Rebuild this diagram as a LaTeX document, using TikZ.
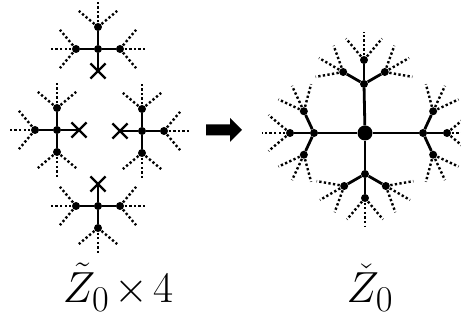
\documentclass[tikz,border=0pt]{standalone}
\usetikzlibrary{shapes.misc}
\begin{document}
\begin{tikzpicture}[
    x=1pt, y=1pt,
    dot/.style={circle, fill, inner sep=0pt, minimum size=8pt},
    hub/.style={circle, fill, inner sep=0pt, minimum size=15pt},
    cut/.style={cross out, draw, line width=2.2pt, inner sep=0pt, minimum size=13pt},
    bond/.style={line width=2.8pt},
    leg/.style={line width=2.4pt, dash pattern=on 2.3pt off 2.3pt},
    lab/.style={font=\Huge, scale=1.75, inner sep=0pt}
]
\useasboundingbox (0,0) rectangle (461,320);

% Four stars, each with one cut arm
\foreach \s/\cx/\cy/\xd in {t/98/271/270, l/57/190/0, r/142/189/180, b/98/114/90} {
  \node[dot] (\s) at (\cx,\cy) {};
  \path (\s) ++(\xd:22) node[cut] (\s x) {};
  \draw[bond] (\s) -- (\s x.center);
  \foreach \k in {1,2,3} {
    \pgfmathsetmacro\ang{\xd+90*\k}
    \path (\s) ++(\ang:22) node[dot] (\s\k) {};
    \draw[bond] (\s) -- (\s\k);
    \foreach \d/\n in {-50/a, 0/b, 50/c} {
      \path (\s\k.center) ++(\ang+\d:25) coordinate (\s\k\n);
      \draw[leg] (\s\k.center) -- (\s\k\n);
    }
  }
}

% Arrow
\fill (206,184.5) -- (230,184.5) -- (230,178) -- (242,190)
      -- (230,202) -- (230,195.5) -- (206,195.5) -- cycle;

% Glued tree
\node[hub] (c) at (365,187) {};
\foreach \h/\hx/\hy/\dir/\sp in {n/364/236/90/60, s/365/146/270/60, w/314/187/180/65, e/423/187/0/65} {
  \node[dot] (\h) at (\hx,\hy) {};
  \draw[bond] (c) -- (\h);
  \foreach \k/\off in {1/-1, 2/0, 3/1} {
    \pgfmathsetmacro\ang{\dir+\off*\sp}
    \path (\h) ++(\ang:24) node[dot] (\h\k) {};
    \draw[bond] (\h) -- (\h\k);
    \foreach \d/\n in {-40/a, 0/b, 40/c} {
      \path (\h\k.center) ++(\ang+\d:28) coordinate (\h\k\n);
      \draw[leg] (\h\k.center) -- (\h\k\n);
    }
  }
}

% Labels
\node[lab, anchor=base] (lhs) at (118,17) {$\tilde{Z}_0\mkern2mu{\times}\mkern2mu4$};
\node[lab, anchor=base] (rhs) at (370,17) {$\check{Z}_0$};

\end{tikzpicture}
\end{document}
